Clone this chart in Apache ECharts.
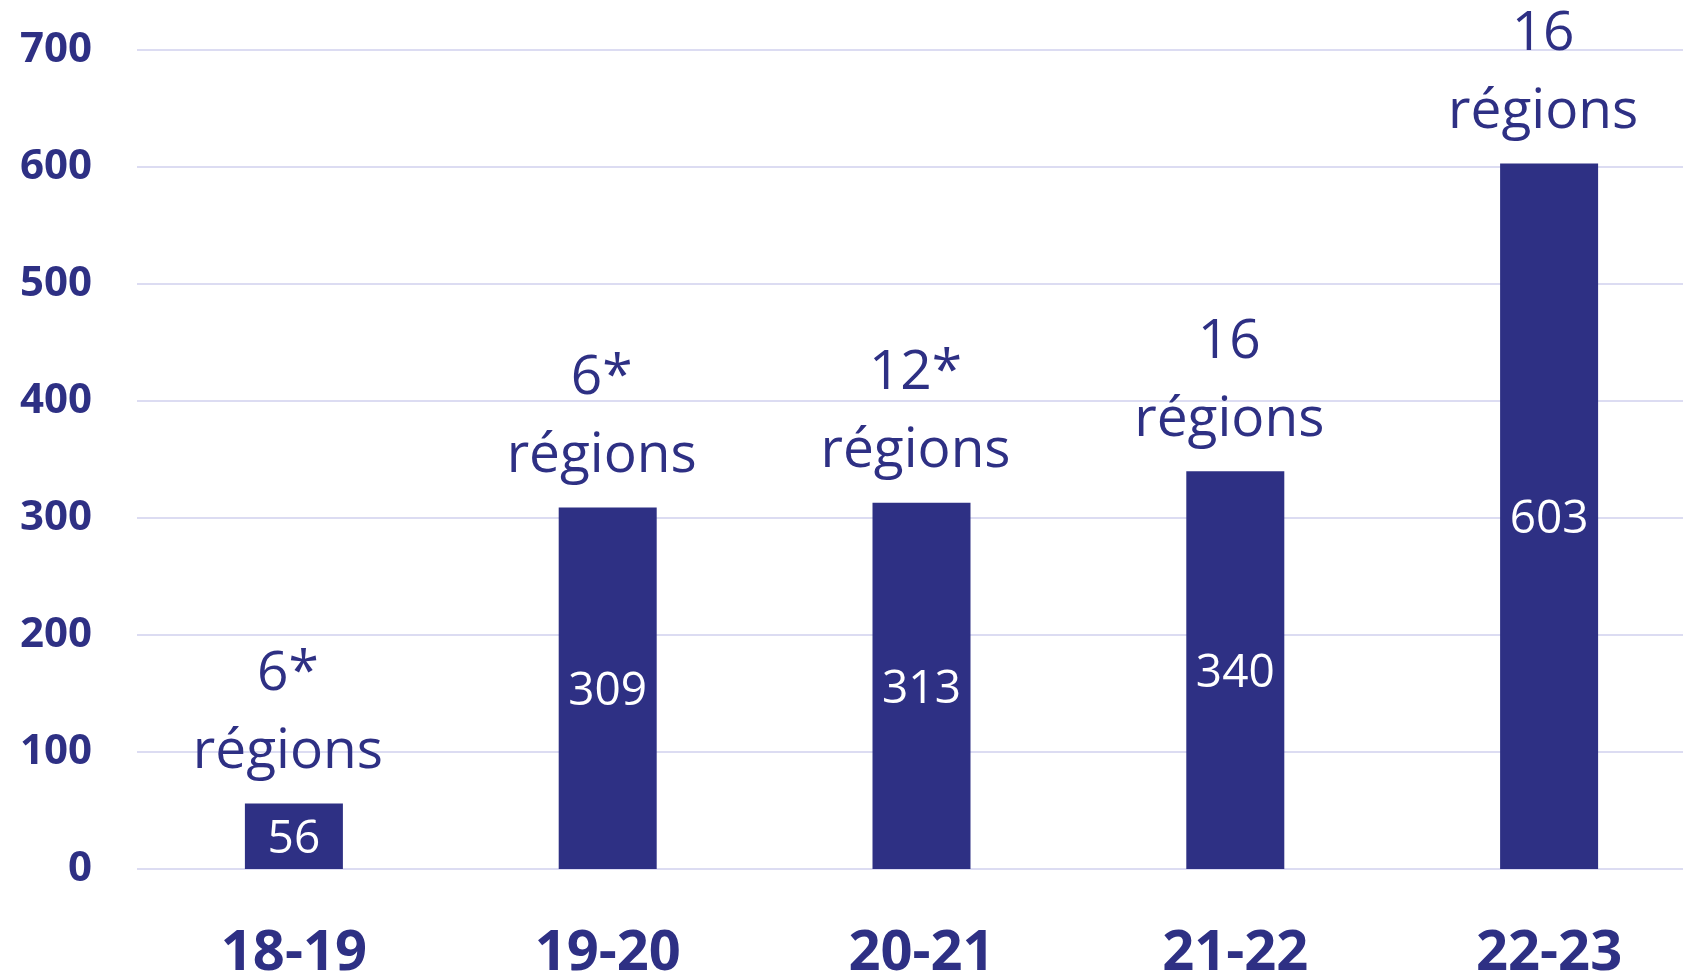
<!DOCTYPE html>
<html>
<head>
<meta charset="utf-8">
<script src="https://cdn.jsdelivr.net/npm/echarts@6/dist/echarts.min.js"></script>
<style>
  html, body { margin: 0; padding: 0; background: #fff; }
  #chart { width: 1683px; height: 977px; }
</style>
</head>
<body>
<div id="chart"></div>
<script>
// school years
var categories = ["18-19", "19-20", "20-21", "21-22", "22-23"];
// counts shown in the bars
var values = [56, 309, 313, 340, 603];
// number of regions written above each bar
var regionCounts = ["6*", "6*", "12*", "16", "16"];
var yTicks = [0, 100, 200, 300, 400, 500, 600, 700];

var navy = "#2E3084";

var chart = echarts.init(document.getElementById("chart"));
chart.setOption({
  animation: false,
  grid: {
    left: 137,
    top: 50,
    bottom: 108,
    width: 1569,
    containLabel: false,
    outerBoundsMode: "none" // the last category runs past the right edge
  },
  xAxis: {
    type: "category",
    data: categories,
    axisLine: { show: false },
    axisTick: { show: false },
    axisLabel: {
      color: navy,
      fontFamily: "Open Sans",
      fontWeight: "bold",
      fontSize: 56,
      margin: 57
    }
  },
  yAxis: {
    type: "value",
    min: yTicks[0],
    max: yTicks[yTicks.length - 1],
    interval: 100,
    axisLine: { show: false },
    axisTick: { show: false },
    splitLine: {
      lineStyle: { color: "#DCDCF2", width: 2 }
    },
    axisLabel: {
      color: navy,
      fontFamily: "Open Sans",
      fontWeight: "bold",
      fontSize: 42,
      margin: 45
    }
  },
  series: [
    {
      type: "bar",
      data: values,
      barWidth: 98,
      itemStyle: { color: navy },
      label: {
        show: true,
        position: "inside",
        offset: [0, 4],
        color: "#fff",
        fontFamily: "Open Sans",
        fontSize: 46
      },
      z: 2
    },
    {
      // invisible twin carrying the "régions" labels
      type: "bar",
      data: values,
      barWidth: 98,
      barGap: "-100%",
      itemStyle: { color: "transparent" },
      label: {
        show: true,
        position: "top",
        distance: 12,
        offset: [-6, 0],
        color: navy,
        fontFamily: "Open Sans",
        fontSize: 55,
        lineHeight: 78,
        formatter: function (p) {
          return regionCounts[p.dataIndex] + "\nrégions";
        }
      },
      z: 3
    }
  ]
});
</script>
</body>
</html>
